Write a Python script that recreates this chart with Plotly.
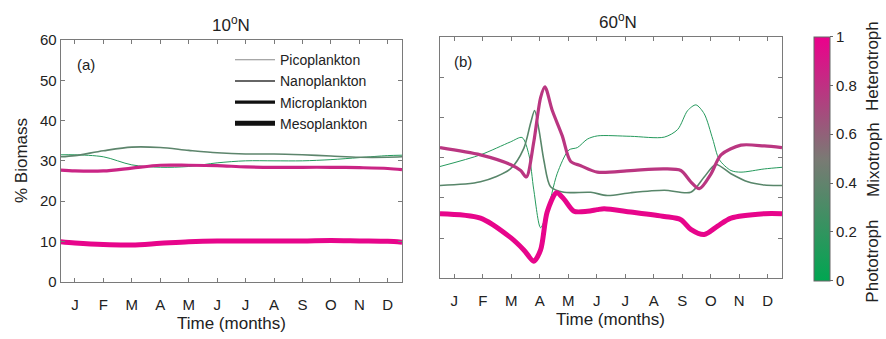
import plotly.graph_objects as go

# ---------------- data ----------------
month_labels = ["J", "F", "M", "A", "M", "J", "J", "A", "S", "O", "N", "D"]
month_pos = [0.5, 1.5, 2.5, 3.5, 4.5, 5.5, 6.5, 7.5, 8.5, 9.5, 10.5, 11.5]

# Panel (a) 10N
xa = [0, 0.5, 1.5, 2.5, 3.5, 4.5, 5.5, 6.5, 7.5, 8.5, 9.5, 10.5, 11.5, 12]
pico_a = [31.5, 31.5, 31.0, 29.0, 28.4, 28.6, 29.5, 30.0, 30.0, 30.0, 30.3, 30.8, 31.3, 31.4]
nano_a = [31.0, 31.3, 32.5, 33.4, 33.3, 32.6, 32.0, 31.7, 31.7, 31.5, 31.2, 30.9, 30.9, 31.0]
micro_a = [27.7, 27.5, 27.5, 28.2, 28.9, 28.9, 28.8, 28.5, 28.4, 28.4, 28.4, 28.3, 28.1, 27.8]
meso_a = [9.9, 9.6, 9.2, 9.1, 9.5, 9.9, 10.1, 10.1, 10.1, 10.1, 10.2, 10.1, 10.0, 9.8]

# Panel (b) 60N
xb_pico = [0, 1.42, 2.47, 2.88, 3.12, 3.29, 3.53, 3.76, 4.11, 4.52, 4.82, 5.17, 5.52, 6.69,
           7.87, 8.34, 8.69, 8.98, 9.27, 9.57, 9.8, 10.21, 10.56, 11.38, 12]
pico_b = [27.8, 30.7, 33.9, 35.0, 30.7, 22.0, 12.6, 16.5, 26.0, 31.9, 32.5, 34.6, 35.4, 35.3,
          35.1, 37.0, 41.7, 43.1, 40.9, 34.6, 29.5, 26.8, 26.4, 27.2, 27.6]

xb_nano = [0, 1.42, 2.47, 2.94, 3.18, 3.32, 3.47, 3.65, 3.88, 4.35, 5.29, 5.87, 6.69, 7.87,
           8.8, 9.27, 9.68, 10.21, 10.8, 11.38, 12]
nano_b = [23.1, 24.0, 27.2, 32.3, 38.6, 41.7, 37.0, 29.1, 22.8, 21.4, 21.4, 20.6, 21.3, 21.9,
          21.4, 25.2, 28.3, 26.0, 24.0, 23.2, 23.1]

xb_micro = [0, 1.42, 2.47, 2.83, 3.03, 3.29, 3.53, 3.68, 3.94, 4.29, 4.58, 4.94, 5.52, 6.69,
            7.87, 8.45, 8.8, 9.1, 9.51, 9.86, 10.56, 11.38, 12]
micro_b = [32.5, 30.7, 28.3, 26.8, 25.2, 33.9, 44.9, 47.6, 41.7, 35.4, 29.1, 28.0, 26.4, 26.8,
           27.2, 26.8, 24.0, 22.3, 26.0, 30.7, 33.1, 32.9, 32.5]

xb_meso = [0, 1.42, 2.47, 2.94, 3.29, 3.53, 3.76, 4.09, 4.35, 4.7, 5.17, 5.52, 5.76, 6.69,
           7.87, 8.45, 8.8, 9.27, 9.74, 10.21, 11.38, 12]
meso_b = [16.1, 15.0, 10.2, 7.1, 4.3, 7.1, 16.5, 21.3, 19.7, 16.7, 16.7, 17.1, 17.3, 16.5,
          15.4, 14.6, 12.2, 10.9, 13.0, 15.0, 16.1, 16.1]

# trophic index (0 = phototroph, 1 = heterotroph) for each line
troph_a = {"pico": 0.15, "nano": 0.38, "micro": 0.85, "meso": 0.98}
troph_b = {"pico": 0.15, "nano": 0.36, "micro": 0.78, "meso": 0.98}

size_names = ["Picoplankton", "Nanoplankton", "Microplankton", "Mesoplankton"]

# ---------------- styling ----------------
FONT = "Liberation Sans, Arial, sans-serif"
TXT = "#222222"
stops = [(0.0, (0, 166, 81)), (0.5, (122, 122, 116)), (1.0, (236, 0, 140))]
cscale = [[s, "rgb(%d,%d,%d)" % c] for s, c in stops]


def tcolor(v):
    for (s0, c0), (s1, c1) in zip(stops[:-1], stops[1:]):
        if s0 <= v <= s1:
            t = (v - s0) / (s1 - s0)
            return "rgb(%d,%d,%d)" % tuple(round(a + (b - a) * t) for a, b in zip(c0, c1))
    return "rgb(%d,%d,%d)" % stops[-1][1]


widths = {"pico": 1.0, "nano": 1.6, "micro": 3.2, "meso": 5.0}

fig = go.Figure()

series_a = [("pico", xa, pico_a), ("nano", xa, nano_a), ("micro", xa, micro_a), ("meso", xa, meso_a)]
series_b = [("pico", xb_pico, pico_b), ("nano", xb_nano, nano_b),
            ("micro", xb_micro, micro_b), ("meso", xb_meso, meso_b)]

for key, xs, ys in series_a:
    fig.add_trace(go.Scatter(x=xs, y=ys, mode="lines", xaxis="x", yaxis="y",
                             line=dict(color=tcolor(troph_a[key]), width=widths[key],
                                       shape="spline", smoothing=0.9),
                             showlegend=False, hoverinfo="skip"))
for key, xs, ys in series_b:
    fig.add_trace(go.Scatter(x=xs, y=ys, mode="lines", xaxis="x2", yaxis="y2",
                             line=dict(color=tcolor(troph_b[key]), width=widths[key],
                                       shape="spline", smoothing=0.8),
                             showlegend=False, hoverinfo="skip"))

# legend entries (black line samples)
leg_colors = ["#8a8a8a", "#333333", "#111111", "#111111"]
leg_widths = [1.2, 1.6, 3.2, 5.0]
for name, c, w in zip(size_names, leg_colors, leg_widths):
    fig.add_trace(go.Scatter(x=[None], y=[None], mode="lines", name=name,
                             line=dict(color=c, width=w), xaxis="x", yaxis="y"))

# colorbar carrier
fig.add_trace(go.Scatter(x=[6], y=[-50], mode="markers", xaxis="x2", yaxis="y2",
                         marker=dict(color=[0.5], colorscale=cscale, cmin=0, cmax=1, size=1,
                                     showscale=True,
                                     colorbar=dict(x=814.3 / 886, xanchor="left", xpad=0, ypad=0,
                                                   y=1 - 157.5 / 339, yanchor="middle",
                                                   len=256.4 / 339, lenmode="fraction",
                                                   thickness=16, thicknessmode="pixels",
                                                   outlinewidth=1, outlinecolor="#666666",
                                                   tickvals=[0, 0.2, 0.4, 0.6, 0.8, 1],
                                                   ticktext=["0", "0.2", "0.4", "0.6", "0.8", "1"],
                                                   ticks="outside", ticklen=3, tickcolor="#666666",
                                                   tickfont=dict(size=15, color=TXT, family=FONT))),
                         showlegend=False, hoverinfo="skip"))

axis_common = dict(showgrid=False, zeroline=False, showline=True, linecolor="#7a7a7a",
                   linewidth=1, mirror="allticks", ticks="inside", ticklen=4,
                   tickcolor="#7a7a7a", tickfont=dict(size=15, color=TXT, family=FONT))

fig.update_layout(
    width=886, height=339, margin=dict(l=0, r=0, t=0, b=0),
    paper_bgcolor="white", plot_bgcolor="white",
    font=dict(family=FONT, color=TXT),
    xaxis=dict(domain=[60.7 / 886, 402 / 886], range=[0, 12], tickvals=month_pos,
               ticktext=month_labels, anchor="y", ticklabelstandoff=9, **axis_common),
    yaxis=dict(domain=[1 - 287 / 339, 1 - 32.7 / 339], range=[0, 60], dtick=10,
               anchor="x", **axis_common),
    xaxis2=dict(domain=[440 / 886, 782 / 886], range=[0, 12], tickvals=month_pos,
                ticktext=month_labels, anchor="y2", ticklabelstandoff=9, **axis_common),
    yaxis2=dict(domain=[1 - 283.7 / 339, 1 - 29.3 / 339], range=[0, 60], dtick=10,
                anchor="x2", showticklabels=False, **axis_common),
    legend=dict(x=230 / 886, xanchor="left", y=1 - 37 / 339, yanchor="top",
                bgcolor="rgba(0,0,0,0)", font=dict(size=14, color=TXT, family=FONT),
                tracegroupgap=0, itemwidth=40),
    showlegend=True,
)

ann = [
    dict(text="10<sup>o</sup>N", x=231 / 886, y=1 - 29 / 339, xanchor="center", yanchor="bottom",
         font=dict(size=17)),
    dict(text="60<sup>o</sup>N", x=618 / 886, y=1 - 26 / 339, xanchor="center", yanchor="bottom",
         font=dict(size=17)),
    dict(text="(a)", x=75 / 886, y=1 - 58 / 339, xanchor="left", yanchor="middle",
         font=dict(size=15)),
    dict(text="(b)", x=452 / 886, y=1 - 55 / 339, xanchor="left", yanchor="middle",
         font=dict(size=15)),
    dict(text="Time (months)", x=231 / 886, y=1 - 331 / 339, xanchor="center", yanchor="middle",
         font=dict(size=17)),
    dict(text="Time (months)", x=610 / 886, y=1 - 327 / 339, xanchor="center", yanchor="middle",
         font=dict(size=17)),
    dict(text="% Biomass", x=22 / 886, y=1 - 160 / 339, xanchor="center", yanchor="middle",
         textangle=-90, font=dict(size=17)),
    dict(text="Heterotroph", x=873 / 886, y=1 - 60 / 339, xanchor="center", yanchor="middle",
         textangle=-90, font=dict(size=17)),
    dict(text="Mixotroph", x=873 / 886, y=1 - 159 / 339, xanchor="center", yanchor="middle",
         textangle=-90, font=dict(size=17)),
    dict(text="Phototroph", x=873 / 886, y=1 - 266 / 339, xanchor="center", yanchor="middle",
         textangle=-90, font=dict(size=17)),
]
for a in ann:
    a.update(xref="paper", yref="paper", showarrow=False)
    a["font"] = dict(family=FONT, color=TXT, size=a["font"]["size"])
fig.update_layout(annotations=ann)

fig.write_html("out.html")
